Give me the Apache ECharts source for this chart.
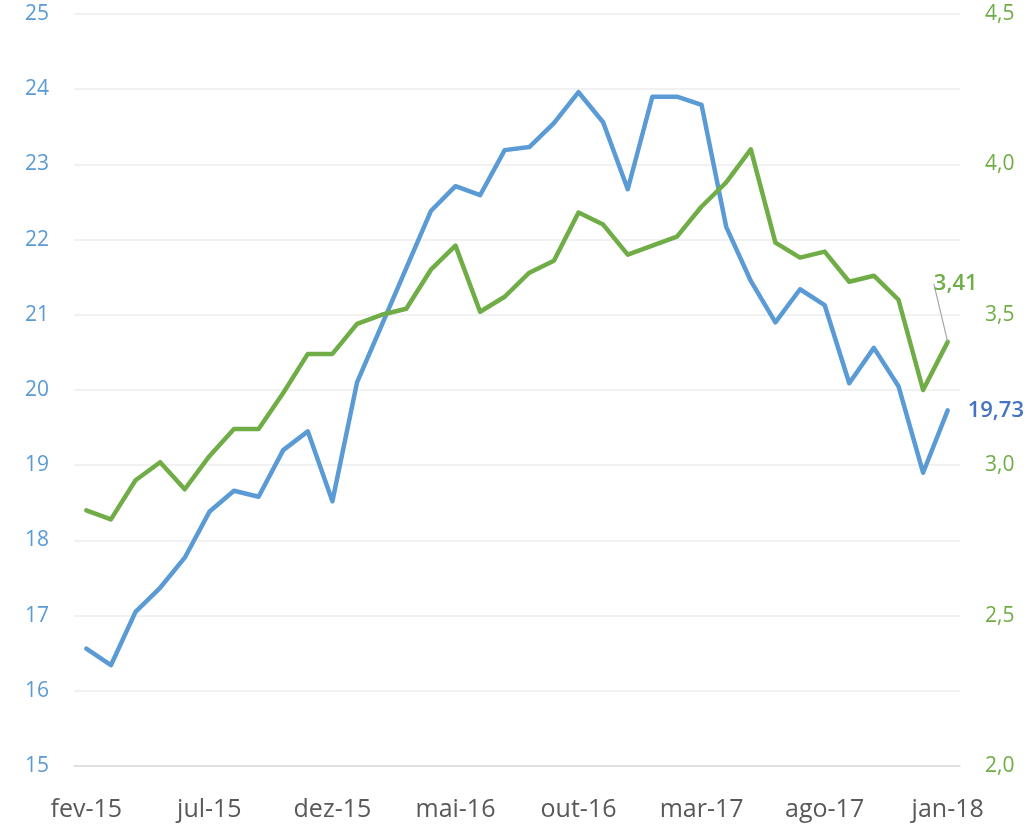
<!DOCTYPE html>
<html>
<head>
<meta charset="utf-8">
<script src="https://cdn.jsdelivr.net/npm/echarts@6/dist/echarts.min.js"></script>
<style>
  html, body { margin: 0; padding: 0; background: #fff; }
  #chart { width: 1031px; height: 827px; }
</style>
</head>
<body>
<div id="chart"></div>
<script>
const months = [
  'fev-15', 'mar-15', 'abr-15', 'mai-15', 'jun-15', 'jul-15', 'ago-15', 'set-15', 'out-15', 'nov-15', 'dez-15',
  'jan-16', 'fev-16', 'mar-16', 'abr-16', 'mai-16', 'jun-16', 'jul-16', 'ago-16', 'set-16', 'out-16', 'nov-16', 'dez-16',
  'jan-17', 'fev-17', 'mar-17', 'abr-17', 'mai-17', 'jun-17', 'jul-17', 'ago-17', 'set-17', 'out-17', 'nov-17', 'dez-17',
  'jan-18'
]

// eixo esquerdo (azul)
const blueValues = [
  16.56, 16.34, 17.05, 17.37, 17.77, 18.38, 18.66, 18.58, 19.20, 19.45,
  18.52, 20.10, 20.86, 21.62, 22.38, 22.71, 22.59, 23.19, 23.23, 23.55,
  23.96, 23.56, 22.67, 23.90, 23.90, 23.79, 22.17, 21.45, 20.90, 21.34,
  21.13, 20.09, 20.56, 20.05, 18.90, 19.73
]

// eixo direito (verde)
const greenValues = [
  2.85, 2.82, 2.95, 3.01, 2.92, 3.03, 3.12, 3.12, 3.24, 3.37,
  3.37, 3.47, 3.50, 3.52, 3.65, 3.73, 3.51, 3.56, 3.64, 3.68,
  3.84, 3.80, 3.70, 3.73, 3.76, 3.86, 3.94, 4.05, 3.74, 3.69,
  3.71, 3.61, 3.63, 3.55, 3.25, 3.41
]

const BLUE = '#5b9bd5'
const GREEN = '#70ad47'
const FONT = 'Open Sans'

const comma = (v, d) => v.toFixed(d).replace('.', ',')

// só o último ponto leva rótulo
const lastOnly = (arr, label) => arr.map((v, i) => i === arr.length - 1 ? { value: v, label: label } : v)

const chart = echarts.init(document.getElementById('chart'))

const option = {
  animation: false,
  grid: { left: 74, right: 71, top: 14, bottom: 61 },
  xAxis: {
    type: 'category',
    data: months,
    boundaryGap: true,
    axisLine: { lineStyle: { color: '#d9d9d9', width: 1.5 } },
    axisTick: { interval: 4, length: 7, lineStyle: { color: '#d9d9d9', width: 1.5 } },
    axisLabel: { interval: 4, margin: 31, color: '#595959', fontSize: 25, fontFamily: FONT }
  },
  yAxis: [
    {
      type: 'value',
      min: 15, max: 25, interval: 1,
      axisLine: { show: false },
      axisTick: { show: false },
      splitLine: { lineStyle: { color: '#ececec', width: 1.5 } },
      axisLabel: { margin: 25, color: BLUE, fontSize: 21, fontFamily: FONT }
    },
    {
      type: 'value',
      min: 2, max: 4.5, interval: 0.5,
      axisLine: { show: false },
      axisTick: { show: false },
      splitLine: { show: false },
      axisLabel: {
        margin: 25, color: GREEN, fontSize: 21, fontFamily: FONT,
        formatter: v => comma(v, 1)
      }
    }
  ],
  series: [
    {
      name: 'azul',
      type: 'line',
      yAxisIndex: 0,
      data: lastOnly(blueValues, {
        show: true, position: 'right', distance: 20,
        color: '#4472c4', fontSize: 22, fontWeight: 600, fontFamily: FONT,
        formatter: p => comma(p.value, 2)
      }),
      symbol: 'circle',
      symbolSize: 0,
      showSymbol: true,
      lineStyle: { color: BLUE, width: 4.5, cap: 'round', join: 'round' },
      itemStyle: { color: BLUE },
      z: 2
    },
    {
      name: 'verde',
      type: 'line',
      yAxisIndex: 1,
      data: lastOnly(greenValues, {
        show: true, position: 'top', distance: 0,
        color: GREEN, fontSize: 22, fontWeight: 600, fontFamily: FONT,
        formatter: p => comma(p.value, 2)
      }),
      symbol: 'circle',
      symbolSize: 0,
      showSymbol: true,
      lineStyle: { color: GREEN, width: 4.5, cap: 'round', join: 'round' },
      itemStyle: { color: GREEN },
      labelLayout: { dx: 8, dy: -47 },
      labelLine: { show: true, lineStyle: { color: '#a6a6a6', width: 1.2 } },
      z: 3
    }
  ]
}

chart.setOption(option)
</script>
</body>
</html>
